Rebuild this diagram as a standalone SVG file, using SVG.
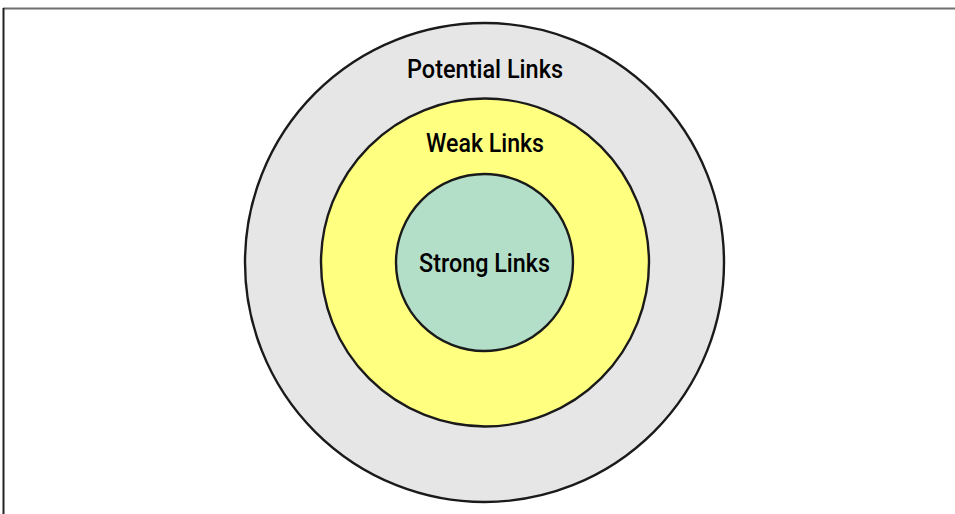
<svg xmlns="http://www.w3.org/2000/svg" width="955" height="514" viewBox="0 0 955 514">
<style>
.ring{stroke:#1a1a1a;stroke-width:2.4}
.lbl{font-family:"Roboto","Liberation Sans",sans-serif;font-size:26px;font-weight:500;fill:#000;text-anchor:middle}
</style>
<rect width="955" height="514" fill="#fff"/>
<g id="frame">
<line x1="3" y1="8.5" x2="955" y2="8.5" stroke="#6e6e6e" stroke-width="2"/>
<line x1="3.5" y1="8" x2="3.5" y2="514" stroke="#222" stroke-width="2"/>
</g>
<g id="potential">
<circle class="ring" cx="484.5" cy="262.5" r="239.5" fill="#e6e6e6"/>
<text class="lbl" x="485" y="78" textLength="156" lengthAdjust="spacingAndGlyphs">Potential Links</text>
</g>
<g id="weak">
<circle class="ring" cx="485" cy="262.5" r="164" fill="#ffff80"/>
<text class="lbl" x="485" y="152" textLength="118" lengthAdjust="spacingAndGlyphs">Weak Links</text>
</g>
<g id="strong">
<circle class="ring" cx="484.5" cy="262.5" r="88.5" fill="#b3dfc8"/>
<text class="lbl" x="484.5" y="272" textLength="131" lengthAdjust="spacingAndGlyphs">Strong Links</text>
</g>
<g id="connectors"/>
</svg>
